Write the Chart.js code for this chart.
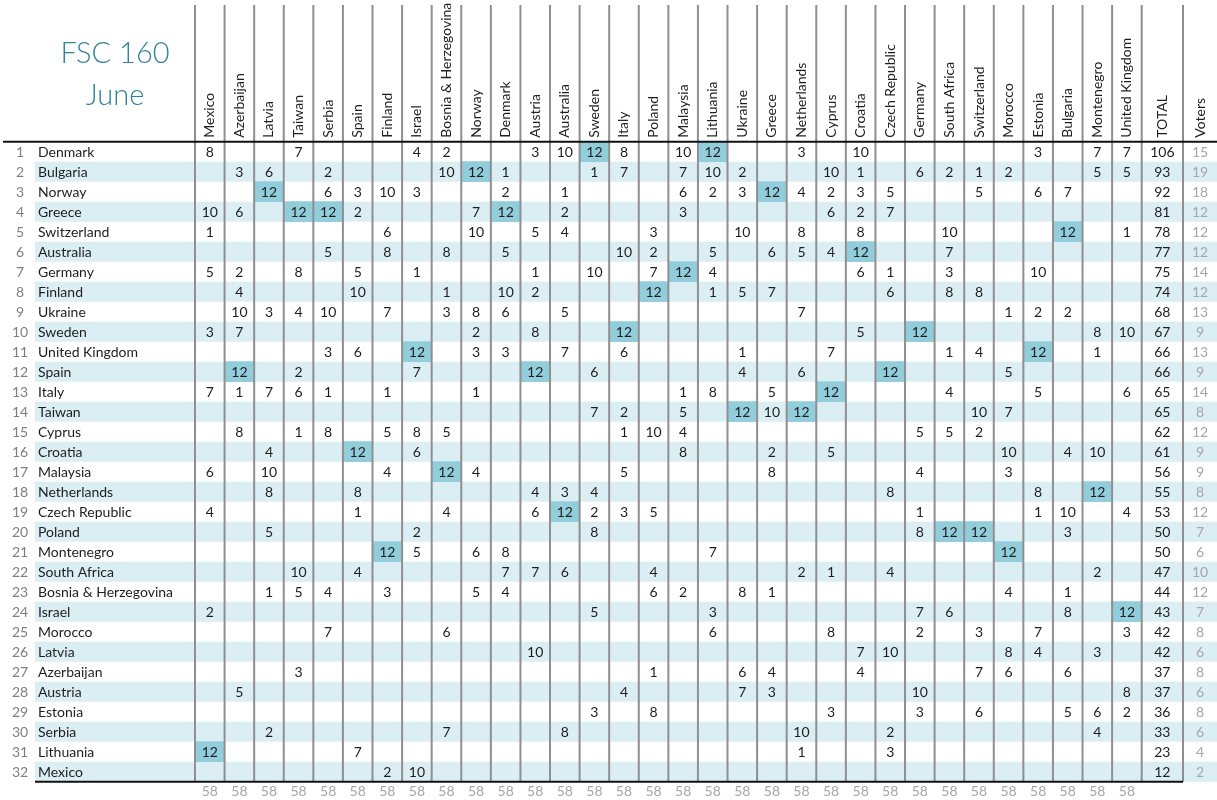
<!DOCTYPE html>
<html>
<head>
<meta charset="utf-8">
<script src="https://cdn.jsdelivr.net/npm/chart.js@4.4.1/dist/chart.umd.min.js"></script>
<style>
  html, body { margin: 0; padding: 0; background: #ffffff; }
  #wrap { width: 1217px; height: 800px; }
</style>
</head>
<body>
<div id="wrap"><canvas id="c" width="1217" height="800"></canvas></div>
<script>
// ---------------- DATA ----------------
const titleLines = ["FSC 160", "June"];
const voters = ["Mexico","Azerbaijan","Latvia","Taiwan","Serbia","Spain","Finland","Israel","Bosnia & Herzegovina","Norway","Denmark","Austria","Australia","Sweden","Italy","Poland","Malaysia","Lithuania","Ukraine","Greece","Netherlands","Cyprus","Croatia","Czech Republic","Germany","South Africa","Switzerland","Morocco","Estonia","Bulgaria","Montenegro","United Kingdom"];
const countries = ["Denmark","Bulgaria","Norway","Greece","Switzerland","Australia","Germany","Finland","Ukraine","Sweden","United Kingdom","Spain","Italy","Taiwan","Cyprus","Croatia","Malaysia","Netherlands","Czech Republic","Poland","Montenegro","South Africa","Bosnia & Herzegovina","Israel","Morocco","Latvia","Azerbaijan","Austria","Estonia","Serbia","Lithuania","Mexico"];
// points given by each voter (columns) to each country (rows); 0 = no points
const votes = [
  [8,0,0,7,0,0,0,4,2,0,0,3,10,12,8,0,10,12,0,0,3,0,10,0,0,0,0,0,3,0,7,7],
  [0,3,6,0,2,0,0,0,10,12,1,0,0,1,7,0,7,10,2,0,0,10,1,0,6,2,1,2,0,0,5,5],
  [0,0,12,0,6,3,10,3,0,0,2,0,1,0,0,0,6,2,3,12,4,2,3,5,0,0,5,0,6,7,0,0],
  [10,6,0,12,12,2,0,0,0,7,12,0,2,0,0,0,3,0,0,0,0,6,2,7,0,0,0,0,0,0,0,0],
  [1,0,0,0,0,0,6,0,0,10,0,5,4,0,0,3,0,0,10,0,8,0,8,0,0,10,0,0,0,12,0,1],
  [0,0,0,0,5,0,8,0,8,0,5,0,0,0,10,2,0,5,0,6,5,4,12,0,0,7,0,0,0,0,0,0],
  [5,2,0,8,0,5,0,1,0,0,0,1,0,10,0,7,12,4,0,0,0,0,6,1,0,3,0,0,10,0,0,0],
  [0,4,0,0,0,10,0,0,1,0,10,2,0,0,0,12,0,1,5,7,0,0,0,6,0,8,8,0,0,0,0,0],
  [0,10,3,4,10,0,7,0,3,8,6,0,5,0,0,0,0,0,0,0,7,0,0,0,0,0,0,1,2,2,0,0],
  [3,7,0,0,0,0,0,0,0,2,0,8,0,0,12,0,0,0,0,0,0,0,5,0,12,0,0,0,0,0,8,10],
  [0,0,0,0,3,6,0,12,0,3,3,0,7,0,6,0,0,0,1,0,0,7,0,0,0,1,4,0,12,0,1,0],
  [0,12,0,2,0,0,0,7,0,0,0,12,0,6,0,0,0,0,4,0,6,0,0,12,0,0,0,5,0,0,0,0],
  [7,1,7,6,1,0,1,0,0,1,0,0,0,0,0,0,1,8,0,5,0,12,0,0,0,4,0,0,5,0,0,6],
  [0,0,0,0,0,0,0,0,0,0,0,0,0,7,2,0,5,0,12,10,12,0,0,0,0,0,10,7,0,0,0,0],
  [0,8,0,1,8,0,5,8,5,0,0,0,0,0,1,10,4,0,0,0,0,0,0,0,5,5,2,0,0,0,0,0],
  [0,0,4,0,0,12,0,6,0,0,0,0,0,0,0,0,8,0,0,2,0,5,0,0,0,0,0,10,0,4,10,0],
  [6,0,10,0,0,0,4,0,12,4,0,0,0,0,5,0,0,0,0,8,0,0,0,0,4,0,0,3,0,0,0,0],
  [0,0,8,0,0,8,0,0,0,0,0,4,3,4,0,0,0,0,0,0,0,0,0,8,0,0,0,0,8,0,12,0],
  [4,0,0,0,0,1,0,0,4,0,0,6,12,2,3,5,0,0,0,0,0,0,0,0,1,0,0,0,1,10,0,4],
  [0,0,5,0,0,0,0,2,0,0,0,0,0,8,0,0,0,0,0,0,0,0,0,0,8,12,12,0,0,3,0,0],
  [0,0,0,0,0,0,12,5,0,6,8,0,0,0,0,0,0,7,0,0,0,0,0,0,0,0,0,12,0,0,0,0],
  [0,0,0,10,0,4,0,0,0,0,7,7,6,0,0,4,0,0,0,0,2,1,0,4,0,0,0,0,0,0,2,0],
  [0,0,1,5,4,0,3,0,0,5,4,0,0,0,0,6,2,0,8,1,0,0,0,0,0,0,0,4,0,1,0,0],
  [2,0,0,0,0,0,0,0,0,0,0,0,0,5,0,0,0,3,0,0,0,0,0,0,7,6,0,0,0,8,0,12],
  [0,0,0,0,7,0,0,0,6,0,0,0,0,0,0,0,0,6,0,0,0,8,0,0,2,0,3,0,7,0,0,3],
  [0,0,0,0,0,0,0,0,0,0,0,10,0,0,0,0,0,0,0,0,0,0,7,10,0,0,0,8,4,0,3,0],
  [0,0,0,3,0,0,0,0,0,0,0,0,0,0,0,1,0,0,6,4,0,0,4,0,0,0,7,6,0,6,0,0],
  [0,5,0,0,0,0,0,0,0,0,0,0,0,0,4,0,0,0,7,3,0,0,0,0,10,0,0,0,0,0,0,8],
  [0,0,0,0,0,0,0,0,0,0,0,0,0,3,0,8,0,0,0,0,0,3,0,0,3,0,6,0,0,5,6,2],
  [0,0,2,0,0,0,0,0,7,0,0,0,8,0,0,0,0,0,0,0,10,0,0,2,0,0,0,0,0,0,4,0],
  [12,0,0,0,0,7,0,0,0,0,0,0,0,0,0,0,0,0,0,0,1,0,0,3,0,0,0,0,0,0,0,0],
  [0,0,0,0,0,0,2,10,0,0,0,0,0,0,0,0,0,0,0,0,0,0,0,0,0,0,0,0,0,0,0,0]
];
const totals = [106,93,92,81,78,77,75,74,68,67,66,66,65,65,62,61,56,55,53,50,50,47,44,43,42,42,37,37,36,33,23,12];
const voterCounts = [15,19,18,12,12,12,14,12,13,9,13,9,14,8,12,9,9,8,12,7,6,10,12,7,8,6,8,6,8,6,4,2];
const columnTotals = [58,58,58,58,58,58,58,58,58,58,58,58,58,58,58,58,58,58,58,58,58,58,58,58,58,58,58,58,58,58,58,58];
const headerExtra = ["TOTAL", "Voters"];

// ---------------- STYLE ----------------
const FONT = 'Lato, "Open Sans", sans-serif';
const TXT = '#1e1e1e';
const GREY = '#a6a6a6';
const RANKC = '#7f7f7f';
const STRIPE = '#daeef3';
const HILITE = '#92cddc';
const GRID = '#8f8f8f';
const TEAL = '#31849b';

// derived datasets
const cellPoints = [];
const topCells = [];
votes.forEach((row, r) => row.forEach((v, c) => {
  if (v) cellPoints.push({ x: c + 0.5, y: r + 0.5, v: v });
  if (v === 12) topCells.push({ x: c + 0.5, y: [r, r + 1] });
}));

const tablePlugin = {
  id: 'table',
  beforeDatasetsDraw(chart) {
    const { ctx, scales: { x, y } } = chart;
    const left = 35;
    ctx.save();
    ctx.fillStyle = STRIPE;
    for (let r = 1; r < countries.length; r += 2) {
      const t = y.getPixelForValue(r), b = y.getPixelForValue(r + 1);
      ctx.fillRect(left, t, chart.width - left, b - t);
    }
    ctx.restore();
  },
  afterDatasetsDraw(chart) {
    const { ctx, chartArea: ca, scales: { x, y } } = chart;
    const totalRight = x.getPixelForValue(voters.length) + 41.3;
    const totalC = (x.getPixelForValue(voters.length) + totalRight) / 2;
    const votersC = (totalRight + chart.width) / 2;
    ctx.save();
    // vertical grid lines
    ctx.strokeStyle = GRID;
    ctx.lineWidth = 2;
    const lineTop = 5;
    for (let c = 0; c <= voters.length; c++) {
      const px = x.getPixelForValue(c);
      ctx.beginPath(); ctx.moveTo(px, lineTop); ctx.lineTo(px, ca.bottom); ctx.stroke();
    }
    ctx.beginPath(); ctx.moveTo(totalRight, lineTop); ctx.lineTo(totalRight, ca.bottom); ctx.stroke();
    // horizontal rules
    ctx.strokeStyle = '#111';
    ctx.lineWidth = 2;
    ctx.beginPath(); ctx.moveTo(3, ca.top); ctx.lineTo(chart.width, ca.top); ctx.stroke();
    ctx.beginPath(); ctx.moveTo(35, ca.bottom); ctx.lineTo(totalRight, ca.bottom); ctx.stroke();

    // cell values
    ctx.font = '14px ' + FONT;
    ctx.textAlign = 'center';
    ctx.textBaseline = 'middle';
    ctx.fillStyle = TXT;
    const meta = chart.getDatasetMeta(1);
    meta.data.forEach((el, i) => {
      ctx.fillText(String(cellPoints[i].v), el.x, el.y + 0.5);
    });

    // row labels, totals, voters
    countries.forEach((name, r) => {
      const cy = y.getPixelForValue(r + 0.5) + 0.5;
      ctx.textAlign = 'center';
      ctx.fillStyle = RANKC;
      ctx.fillText(String(r + 1), 20, cy);
      ctx.textAlign = 'left';
      ctx.fillStyle = TXT;
      ctx.fillText(name, 38, cy);
      ctx.textAlign = 'center';
      ctx.fillText(String(totals[r]), totalC, cy);
      ctx.fillStyle = GREY;
      ctx.fillText(String(voterCounts[r]), votersC, cy);
    });
    // column totals
    ctx.fillStyle = GREY;
    columnTotals.forEach((v, c) => {
      ctx.fillText(String(v), x.getPixelForValue(c + 0.5), ca.bottom + 10);
    });

    // rotated header labels
    ctx.fillStyle = TXT;
    ctx.textAlign = 'left';
    ctx.textBaseline = 'middle';
    const drawV = (txt, px) => {
      ctx.save();
      ctx.translate(px, ca.top - 4);
      ctx.rotate(-Math.PI / 2);
      ctx.fillText(txt, 0, 0);
      ctx.restore();
    };
    voters.forEach((v, c) => drawV(v, x.getPixelForValue(c + 0.5)));
    drawV(headerExtra[0], totalC);
    drawV(headerExtra[1], votersC);

    // title
    ctx.fillStyle = TEAL;
    ctx.textAlign = 'center';
    ctx.textBaseline = 'alphabetic';
    ctx.font = '300 29px ' + FONT;
    ctx.fillText(titleLines[0], 115, 63);
    ctx.fillText(titleLines[1], 115, 105);
    ctx.restore();
  }
};

new Chart(document.getElementById('c'), {
  type: 'bar',
  data: {
    datasets: [
      {
        type: 'bar',
        data: topCells,
        backgroundColor: HILITE,
        borderWidth: 0,
        barPercentage: 1,
        categoryPercentage: 1
      },
      {
        type: 'scatter',
        data: cellPoints,
        pointRadius: 0,
        pointHoverRadius: 0,
        showLine: false
      }
    ]
  },
  options: {
    responsive: false,
    animation: false,
    events: [],
    layout: { padding: { left: 195, right: 75.3, top: 141.7, bottom: 18.3 } },
    plugins: { legend: { display: false }, tooltip: { enabled: false } },
    scales: {
      x: { type: 'linear', min: 0, max: voters.length, offset: false, display: false, grid: { offset: false } },
      y: { type: 'linear', min: 0, max: countries.length, reverse: true, display: false, beginAtZero: false }
    }
  },
  plugins: [tablePlugin]
});
</script>
</body>
</html>
